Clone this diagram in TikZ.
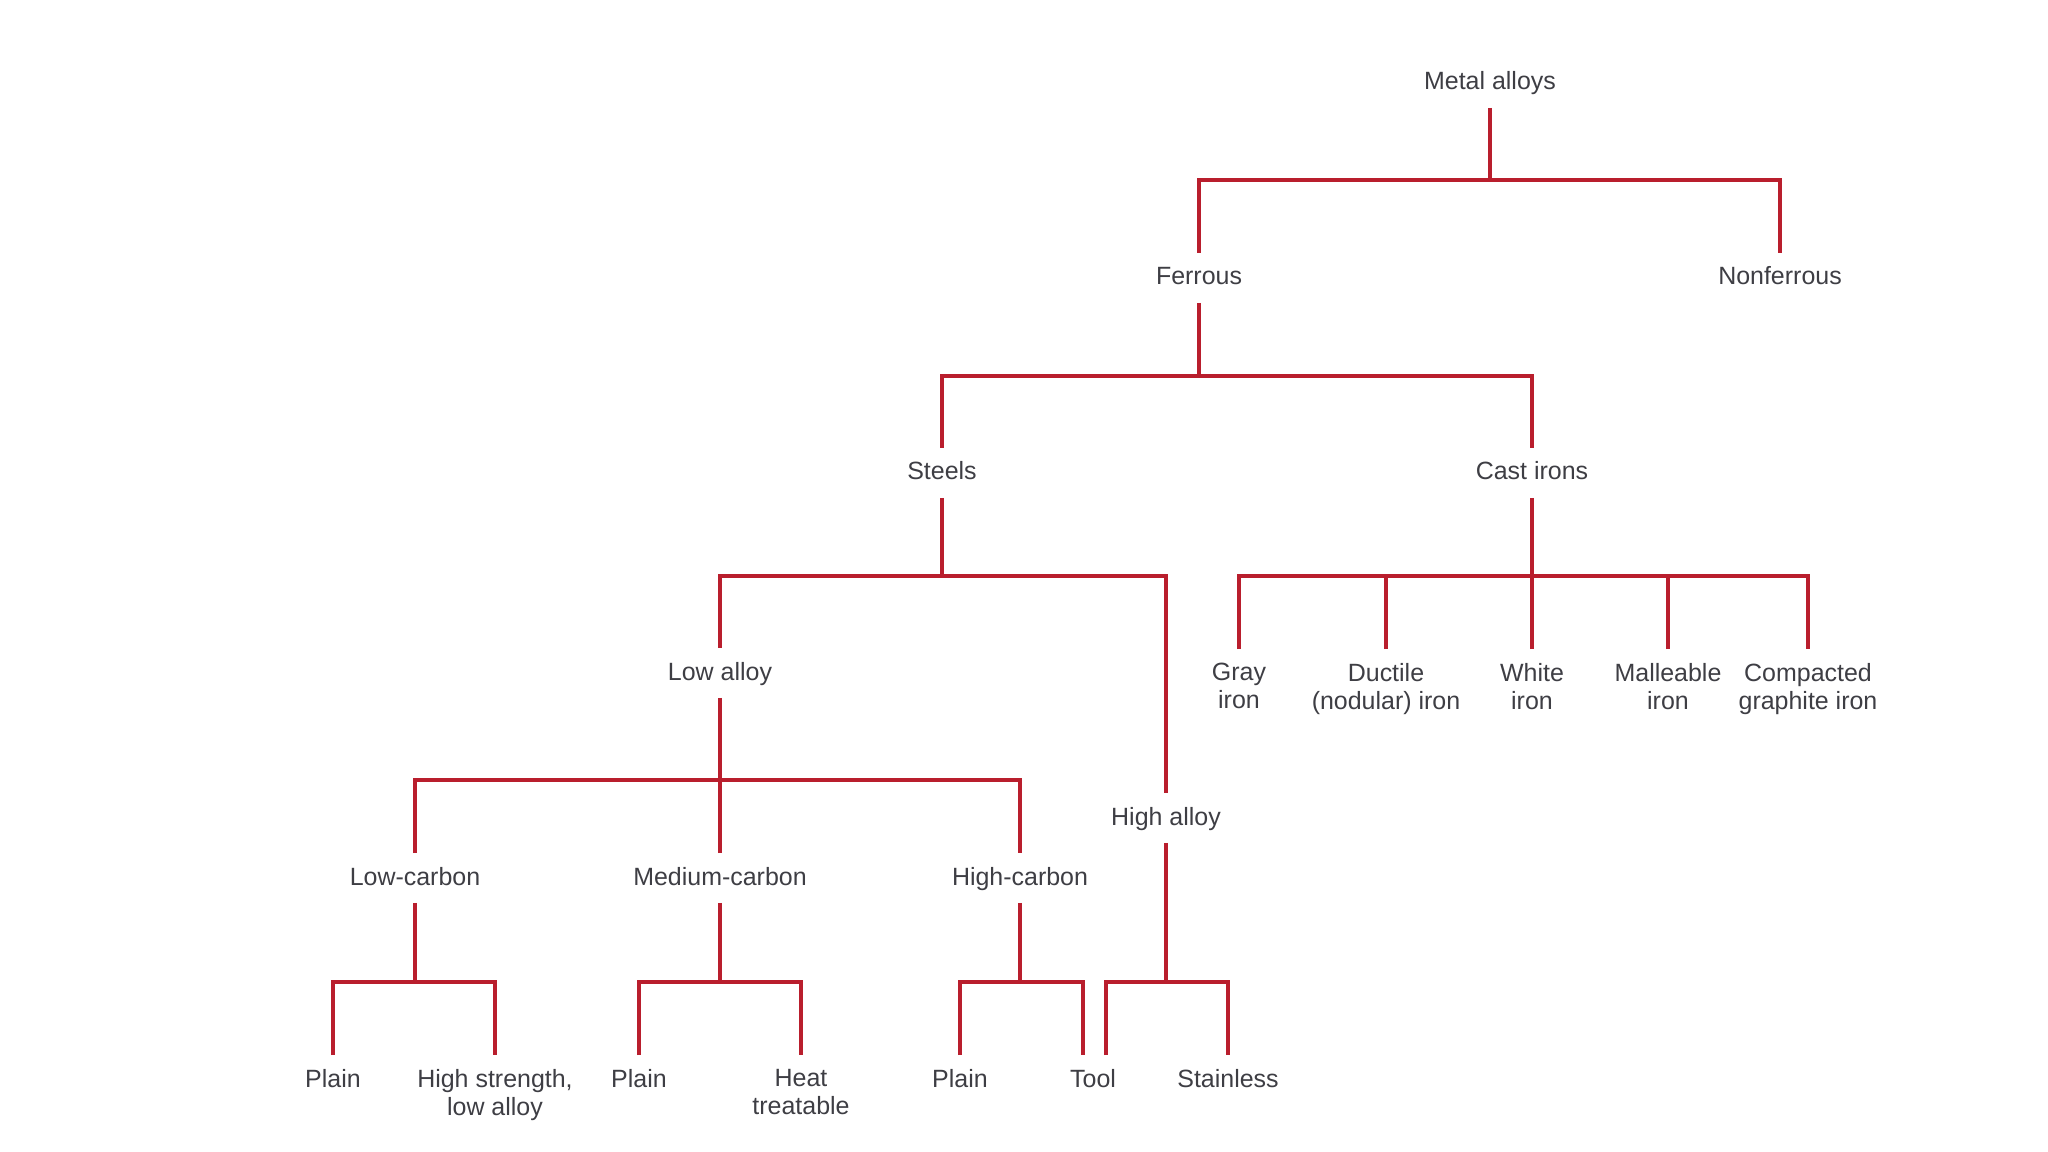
\documentclass[tikz,border=0pt]{standalone}
\usepackage{fontspec}
\setmainfont{Liberation Sans}
\usepackage{xcolor}
\usepackage{tikz}
\usetikzlibrary{calc}
\definecolor{branch}{RGB}{185,30,45}
\definecolor{ink}{RGB}{62,62,68}
\tikzset{
  lbl/.style ={font=\fontsize{7.1}{8}\selectfont,text=ink,inner sep=0pt,outer ysep=4pt,align=center},
  one/.style ={lbl,anchor=base,text height=5.1pt,text depth=1.1pt},
  two/.style ={lbl,anchor=north},
  edge/.style={draw=branch,line width=0.9pt},
}

\begin{document}
\begin{tikzpicture}[x=0.01cm,y=-0.01cm]
  \useasboundingbox (0,0) rectangle (2048,1152);
  % UPPER: metal alloys down to steels and cast irons
  \node[one] (metal)      at (1490,90)  {Metal alloys};
  \node[one] (ferrous)    at (1199,285) {Ferrous};
  \node[one] (nonferrous) at (1780,285) {Nonferrous};
  \node[one] (steels)     at (942,480)  {Steels};
  \node[one] (castirons)  at (1532,480) {Cast irons};
  \coordinate (b0) at (1490,180);
  \coordinate (b1) at (1199,376);
  \draw[edge] (metal.south) -- (b0);
  \draw[edge] (ferrous.north) |- (b0) -| (nonferrous.north);
  \draw[edge] (ferrous.south) -- (b1);
  \draw[edge] (steels.north) |- (b1) -| (castirons.north);
  % RIGHT: kinds of cast iron
  \node[two] (gray)      at (1239,649) {Gray\\iron};
  \node[two] (ductile)   at (1386,649) {Ductile\\(nodular) iron};
  \node[two] (white)     at (1532,649) {White\\iron};
  \node[two] (malleable) at (1668,649) {Malleable\\iron};
  \node[two] (compacted) at (1808,649) {Compacted\\graphite iron};
  \coordinate (b2) at (1532,576);
  \draw[edge] (castirons.south) -- (b2);
  \draw[edge] (gray.north) |- (b2) -| (compacted.north);
  \foreach \k in {ductile,white,malleable}
    \draw[edge] (\k.north) -- (\k.north |- b2);
  % LEFT: steels
  \node[one] (lowalloy)   at (720,680)  {Low alloy};
  \node[one] (highalloy)  at (1166,825) {High alloy};
  \node[one] (lowcarbon)  at (415,885)  {Low-carbon};
  \node[one] (medcarbon)  at (720,885)  {Medium-carbon};
  \node[one] (highcarbon) at (1020,885) {High-carbon};
  \coordinate (b3) at (942,576);
  \coordinate (b4) at (720,780);
  \draw[edge] (steels.south) -- (b3);
  \draw[edge] (lowalloy.north) |- (b3) -| (highalloy.north);
  \draw[edge] (lowalloy.south) -- (b4);
  \draw[edge] (lowcarbon.north) |- (b4) -| (highcarbon.north);
  \draw[edge] (medcarbon.north) -- (b4);
  % BOTTOM: leaves
  \node[two] (plainA)    at (333,1055)  {Plain};
  \node[two] (hsla)      at (495,1055)  {High strength,\\low alloy};
  \node[two] (plainB)    at (639,1055)  {Plain};
  \node[two] (heat)      at (801,1055)  {Heat\\treatable};
  \node[two] (plainC)    at (960,1055)  {Plain};
  \node[two] (tool)      at (1093,1055) {Tool};
  \node[two] (stainless) at (1228,1055) {Stainless};
  \coordinate (b5) at (415,982);
  \coordinate (b6) at (720,982);
  \coordinate (b7) at (1020,982);
  \coordinate (b8) at (1166,982);
  \draw[edge] (lowcarbon.south) -- (b5);
  \draw[edge] (plainA.north) |- (b5) -| (hsla.north);
  \draw[edge] (medcarbon.south) -- (b6);
  \draw[edge] (plainB.north) |- (b6) -| (heat.north);
  \draw[edge] (highcarbon.south) -- (b7);
  \draw[edge] (plainC.north) |- (b7) -| ($(tool.north)+(-10,0)$);
  \draw[edge] (highalloy.south) -- (b8);
  \draw[edge] ($(tool.north)+(13,0)$) |- (b8) -| (stainless.north);
\end{tikzpicture}
\end{document}
